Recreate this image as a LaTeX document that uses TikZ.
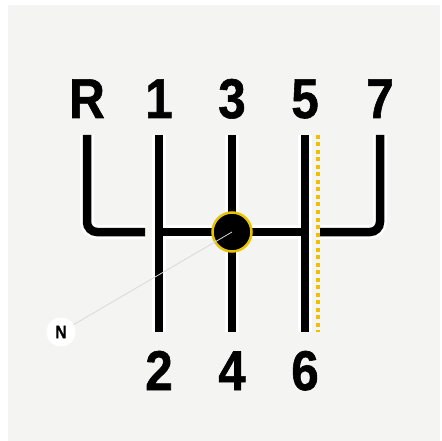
\documentclass[tikz,border=0pt]{standalone}
\usepackage{fontspec}
\setmainfont{Liberation Sans}
\newfontfamily\gearfont{Liberation Sans Bold}[FakeStretch=0.88,FakeBold=1]
\definecolor{bgc}{HTML}{F4F4F3}
\definecolor{knobring}{HTML}{E8C400}
\definecolor{dotc}{HTML}{F2BE00}
\begin{document}
\begin{tikzpicture}[x=1pt,y=-1pt,
  gate/.style={line width=8.5pt,black,line cap=butt},
  halo/.style={line width=14pt,white,line cap=butt},
  gear/.style={font=\gearfont\fontsize{56}{56}\selectfont,anchor=base,inner sep=0pt},
  pointer/.style={line width=0.8pt,white!70!gray}]
\fill[white] (0,0) rectangle (442,441);
\fill[bgc] (8,5) rectangle (440,441);
\useasboundingbox (0,0) rectangle (442,441);
% coordinates
\coordinate (Rt) at (87,135);
\coordinate (Le) at (145,232);
\coordinate (At) at (159,135); \coordinate (Ab) at (159,332);
\coordinate (Bt) at (232,135); \coordinate (Bb) at (232,332);
\coordinate (Ct) at (305,135); \coordinate (Cb) at (305,332);
\coordinate (Hs) at (159,232); \coordinate (He) at (305,232);
\coordinate (Rs) at (320,232);
\coordinate (St) at (380,135);
\coordinate (Yt) at (318,135); \coordinate (Yb) at (318,332);
% halos
\draw[halo,rounded corners=10pt] (Rt) |- (Le);
\draw[halo] (At) -- (Ab);
\draw[halo] (Bt) -- (Bb);
\draw[halo] (Ct) -- (Cb);
\draw[halo] (Hs) -- (He);
\draw[halo,rounded corners=10pt] (Rs) -| (St);
% gate lines
\draw[gate,rounded corners=10pt] (Rt) |- (Le);
\draw[gate] (At) -- (Ab);
\draw[gate] (Bt) -- (Bb);
\draw[gate] (Ct) -- (Cb);
\draw[gate] (Hs) -- (He);
\draw[gate,rounded corners=10pt] (Rs) -| (St);
\draw[dotc,line width=3.4pt,dash pattern=on 4pt off 3.5pt] (Yt) -- (Yb);
% knob
\node[circle,fill=black,draw=knobring,line width=2.5pt,minimum size=39pt,inner sep=0pt] (knob) at (232,232) {};
% N marker
\node[circle,fill=white,minimum size=29pt,inner sep=0pt,font=\gearfont\fontsize{18}{18}\selectfont] (N) at (61,332) {N};
\draw[pointer] (N) -- (knob.center);
% labels
\node[gear] (lR) at (87,118) {R};
\node[gear] (l1) at (159,118) {1};
\node[gear] (l3) at (232,118) {3};
\node[gear] (l5) at (305,118) {5};
\node[gear] (l7) at (380,118) {7};
\node[gear] (l2) at (159,390) {2};
\node[gear] (l4) at (232,390) {4};
\node[gear] (l6) at (305,390) {6};
\end{tikzpicture}
\end{document}
